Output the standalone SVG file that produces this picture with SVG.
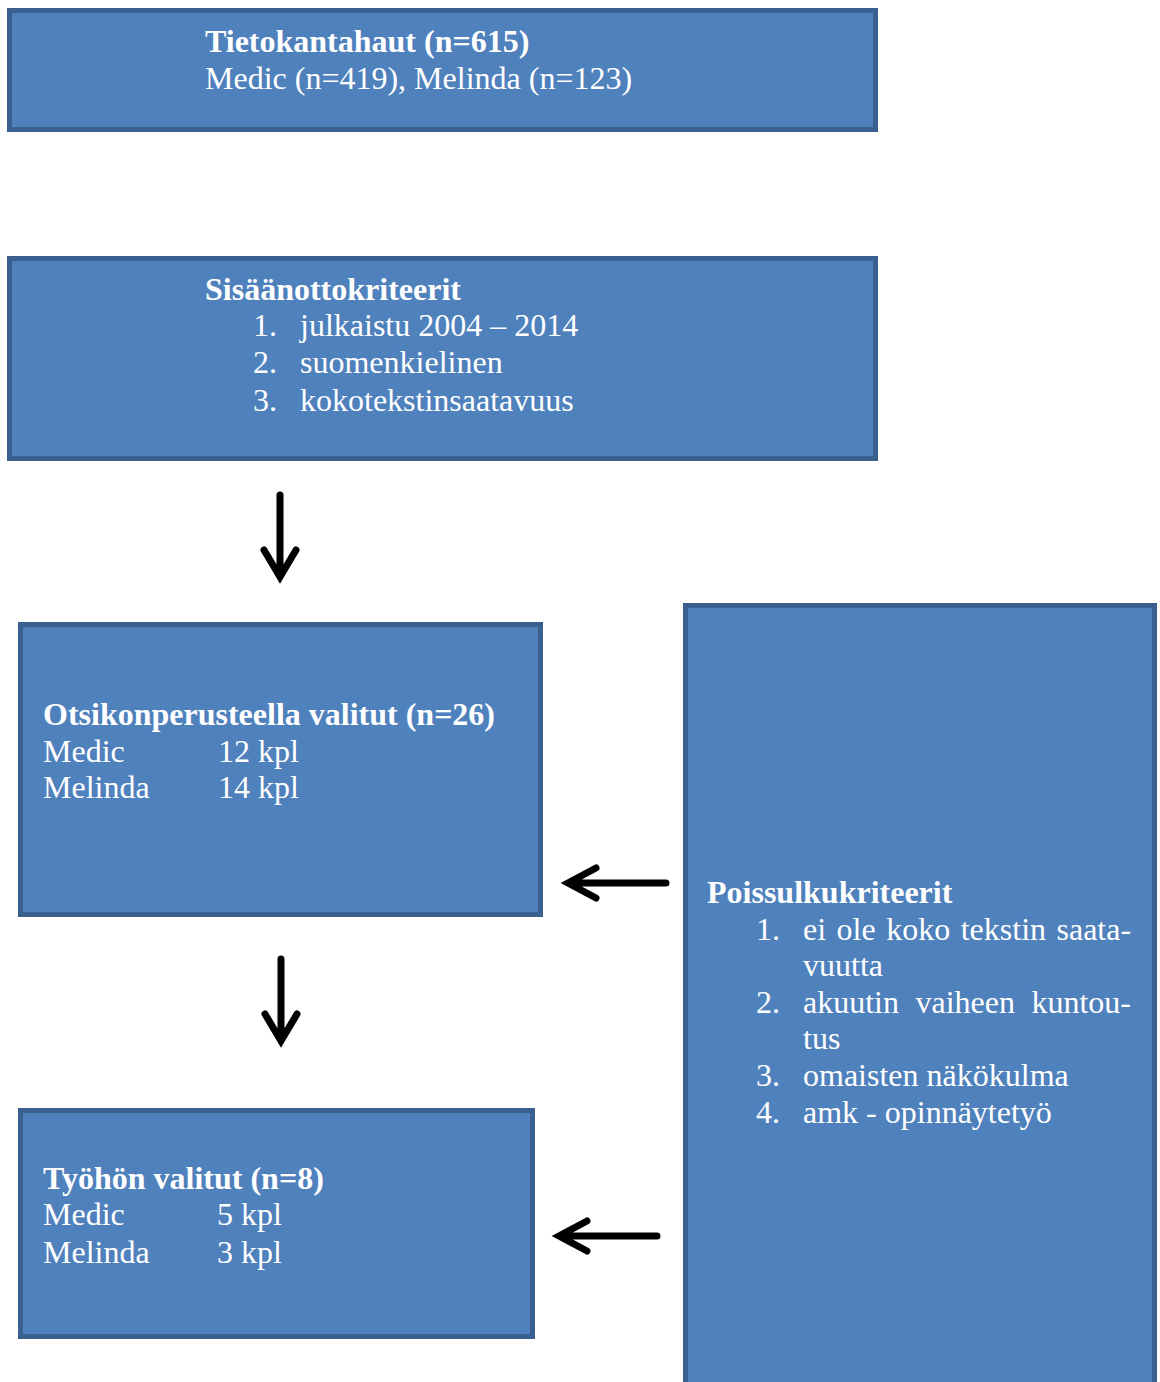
<svg xmlns="http://www.w3.org/2000/svg" width="1160" height="1382" viewBox="0 0 1160 1382">
<style>
.box{fill:#4f81bd;stroke:#3a6090;stroke-width:5}
text{font-family:"Liberation Serif","Times New Roman",serif;font-size:32px;fill:#ffffff}
.b{font-weight:bold}
.arr{fill:none;stroke:#000;stroke-width:7;stroke-linecap:round;stroke-linejoin:miter}
</style>
<rect width="1160" height="1382" fill="#ffffff"/>
<g id="node-tietokantahaut">
<rect class="box" x="9.5" y="10.5" width="866" height="119"/>
<text class="b" x="205" y="52">Tietokantahaut (n=615)</text>
<text x="205" y="89">Medic (n=419), Melinda (n=123)</text>
</g>
<g id="node-sisaanotto">
<rect class="box" x="9.5" y="258.5" width="866" height="200"/>
<text class="b" x="205" y="300">Sisäänottokriteerit</text>
<text x="253" y="336">1.</text><text x="300" y="336">julkaistu 2004 – 2014</text>
<text x="253" y="373">2.</text><text x="300" y="373">suomenkielinen</text>
<text x="253" y="411">3.</text><text x="300" y="411">kokotekstinsaatavuus</text>
</g>
<g id="node-otsikko">
<rect class="box" x="20.5" y="624.5" width="520" height="290"/>
<text class="b" x="43" y="725">Otsikonperusteella valitut (n=26)</text>
<text x="43" y="762">Medic</text><text x="218" y="762">12 kpl</text>
<text x="43" y="798">Melinda</text><text x="218" y="798">14 kpl</text>
</g>
<g id="node-tyohon">
<rect class="box" x="20.5" y="1110.5" width="512" height="226"/>
<text class="b" x="43" y="1189">Työhön valitut (n=8)</text>
<text x="43" y="1225">Medic</text><text x="217" y="1225">5 kpl</text>
<text x="43" y="1263">Melinda</text><text x="217" y="1263">3 kpl</text>
</g>
<g id="node-poissulku">
<rect class="box" x="685.5" y="605.5" width="469" height="800"/>
<text class="b" x="707" y="903">Poissulkukriteerit</text>
<text x="756" y="940">1.</text>
<text y="940"><tspan x="803">ei</tspan><tspan x="836.6">ole</tspan><tspan x="886.2">koko</tspan><tspan x="960.7">tekstin</tspan><tspan x="1056.5">saata-</tspan></text>
<text x="803" y="976">vuutta</text>
<text x="756" y="1013">2.</text>
<text y="1013"><tspan x="803">akuutin</tspan><tspan x="915.5">vaiheen</tspan><tspan x="1031.4">kuntou-</tspan></text>
<text x="803" y="1049">tus</text>
<text x="756" y="1086">3.</text><text x="803" y="1086">omaisten näkökulma</text>
<text x="756" y="1123">4.</text><text x="803" y="1123">amk - opinnäytetyö</text>
</g>
<g id="connectors">
<path class="arr" d="M280 495 V576 M264 550 L280 577 L296 550"/>
<path class="arr" d="M281 959 V1040 M265 1014 L281 1041 L297 1014"/>
<path class="arr" d="M666 883 H570 M596 868 L568 883 L596 898"/>
<path class="arr" d="M657 1236 H561 M587 1221 L559 1236 L587 1251"/>
</g>
</svg>
